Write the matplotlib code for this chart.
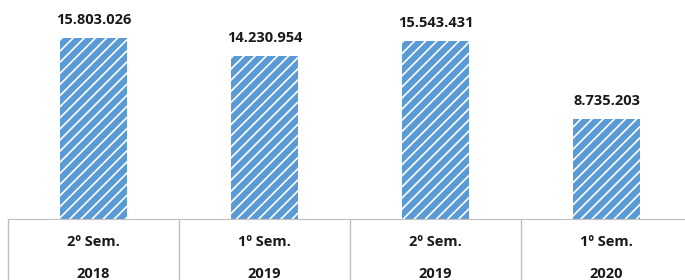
import matplotlib.pyplot as plt

semesters = ["2º Sem.", "1º Sem.", "2º Sem.", "1º Sem."]
years = ["2018", "2019", "2019", "2020"]
values = [15803026, 14230954, 15543431, 8735203]
value_labels = ["15.803.026", "14.230.954", "15.543.431", "8.735.203"]

plt.rcParams['font.family'] = ['Open Sans', 'DejaVu Sans']
plt.rcParams['hatch.linewidth'] = 1.2

W, H = 685, 280
fig = plt.figure(figsize=(W / 100, H / 100), dpi=100)
# axes baseline at y=219 px, categories 171 px wide starting at x=8
ax = fig.add_axes([8 / W, (H - 219) / H, 684 / W, 219 / H])

x = list(range(len(values)))
ax.bar(x, values, width=0.39, color='#5B9BD5', edgecolor='white',
       linewidth=0, hatch='///')

for xi, v, lab in zip(x, values, value_labels):
    ax.annotate(lab, (xi, v), xytext=(0, 8), textcoords='offset points',
                ha='center', va='bottom', fontsize=10.5, fontweight='bold',
                color='#1a1a1a')

ax.set_xlim(-0.5, 3.5)
ax.set_ylim(0, 19.1e6)
ax.set_xticks([])
ax.set_yticks([])
for s in ['top', 'right', 'left']:
    ax.spines[s].set_visible(False)
ax.spines['bottom'].set_color('#BFBFBF')

# table grid below the axis
tr = ax.get_xaxis_transform()
for xl in [-0.5, 0.5, 1.5, 2.5, 3.5]:
    ax.plot([xl, xl], [0, -0.4], transform=tr, color='#BFBFBF',
            lw=1, clip_on=False)

for xi, s, yr in zip(x, semesters, years):
    ax.text(xi, -0.105, s, transform=tr, ha='center', va='center',
            fontsize=10.5, fontweight='bold', color='#1a1a1a')
    ax.text(xi, -0.25, yr, transform=tr, ha='center', va='center',
            fontsize=10.5, fontweight='bold', color='#1a1a1a')

plt.savefig('out.png', dpi=100)
plt.close()
